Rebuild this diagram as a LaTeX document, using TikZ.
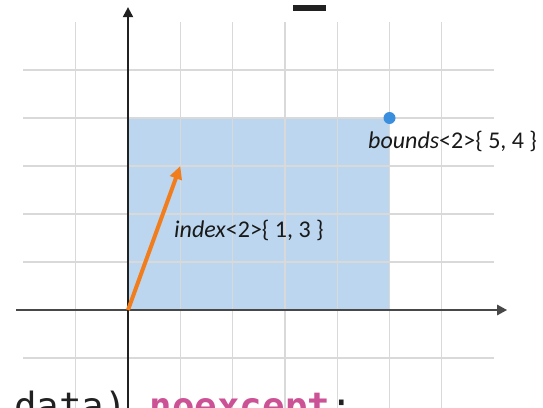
\documentclass[tikz,border=0pt]{standalone}
\usepackage{fontspec}
\usepackage{tikz}
\usetikzlibrary{arrows.meta,positioning}
\newfontfamily\labelfont{Carlito}
\newfontfamily\codefont{DejaVu Sans Mono}
\definecolor{gridgray}{RGB}{217,217,217}
\definecolor{areablue}{RGB}{187,214,238}
\definecolor{dotblue}{RGB}{58,142,222}
\definecolor{vecorange}{RGB}{242,125,28}
\definecolor{kwpink}{RGB}{204,82,150}
\definecolor{axisgray}{RGB}{72,72,72}

\begin{document}
\begin{tikzpicture}[
  x=52.3pt,y=48pt,
  gridline/.style={draw=gridgray,line width=1.3pt},
  axis/.style={-{Triangle[length=10pt,width=10pt]},line width=2pt},
  vec/.style={-{Triangle[length=13pt,width=12pt]},line width=4pt,draw=vecorange},
  pt/.style={circle,fill=dotblue,inner sep=0pt,minimum size=12pt},
  lbl/.style={anchor=base west,inner sep=0pt,font=\labelfont\fontsize{24}{27}\selectfont,text=black!90}
]
  \useasboundingbox (-2.4474,-2.0208) rectangle (7.935,6.4583);
  \clip (-2.4474,-2.0208) rectangle (7.935,6.4583);

  % area spanned by the bounds
  \fill[areablue] (0,0) rectangle (5,4);

  % grid
  \foreach \gx in {-1,1,2,...,6}
    \draw[gridline] (\gx,-2.1) -- (\gx,6);
  \foreach \gy in {-1,1,2,...,5}
    \draw[gridline] (-2,\gy) -- (7,\gy);

  % axes
  \coordinate (O) at (0,0);
  \coordinate (xl) at (-2.14,0);
  \coordinate (xr) at (7.25,0);
  \coordinate (yb) at (0,-2.1);
  \coordinate (yt) at (0,6.31);
  \draw[axis,draw=axisgray,line width=2.5pt] (xl) -- (xr);
  \draw[axis,draw=black!87] (yb) -- (yt);

  % index vector and bounds point
  \coordinate (idx) at (1,3);
  \draw[vec] (O) -- (idx);
  \node[pt] (bnd) at (5,4) {};

  \node[lbl] (idxlbl) at (0.88,1.52) {\textit{index}<2>\{ 1, 3 \}};
  \node[lbl] (bndlbl) at (4.589,3.375) {\textit{bounds}<2>\{ 5, 4 \}};

  % bits of the surrounding code listing
  \fill[black!87] (3.155,6.229) rectangle (3.786,6.354);
  \node[anchor=base west,inner sep=0pt,font=\codefont\fontsize{37.5}{40}\selectfont,text=black!87]
    (code) at (-2.18,-2.29) {data) \textcolor{kwpink}{\bfseries noexcept};};
\end{tikzpicture}
\end{document}
